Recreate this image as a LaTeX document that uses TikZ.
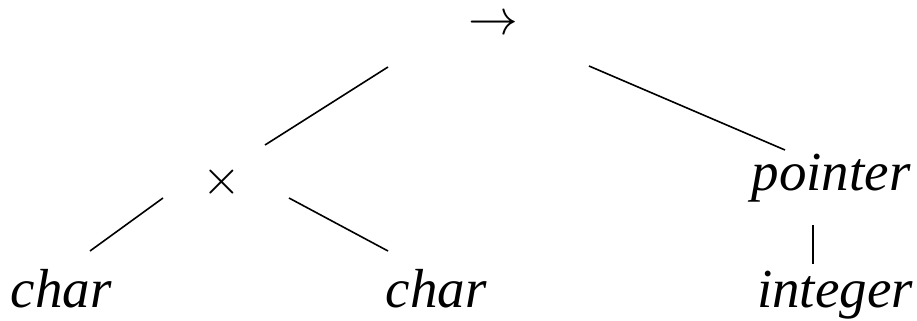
\documentclass[tikz,border=0pt]{standalone}
\usepackage{fontspec}
\setmainfont{Liberation Serif}
\usepackage{tikz}

\begin{document}
\begin{tikzpicture}[x=0.5pt, y=-0.5pt, thick,
    leaf/.style={font=\fontsize{27.5pt}{32pt}\selectfont\itshape, inner sep=0pt, anchor=base},
    op/.style={font=\fontsize{25.5pt}{30pt}\selectfont, inner sep=0pt}]
        \useasboundingbox (0,0) rectangle (917,321);
        % type expression tree
        \node[op] (arrow) at (493,25) {$\rightarrow$};
        \node[op] (times) at (222,182) {$\times$};
        \node[leaf] (ptr) at (831,190) {pointer};
        \node[leaf] (charA) at (61,307) {char};
        \node[leaf] (charB) at (436,307) {char};
        \node[leaf] (intg) at (835,307) {integer};
        \draw ([shift={(-105,42)}]arrow.center) -- ([shift={(43,-37)}]times.center);
        \draw ([shift={(96,41)}]arrow.center) -- ([shift={(-46,-40)}]ptr.base);
        \draw ([shift={(-59,16)}]times.center) -- ([shift={(29,-56)}]charA.base);
        \draw ([shift={(67,16)}]times.center) -- ([shift={(-48,-56)}]charB.base);
        \draw ([shift={(-18,35)}]ptr.base) -- ([shift={(-22,-43)}]intg.base);
    \end{tikzpicture}
\end{document}
